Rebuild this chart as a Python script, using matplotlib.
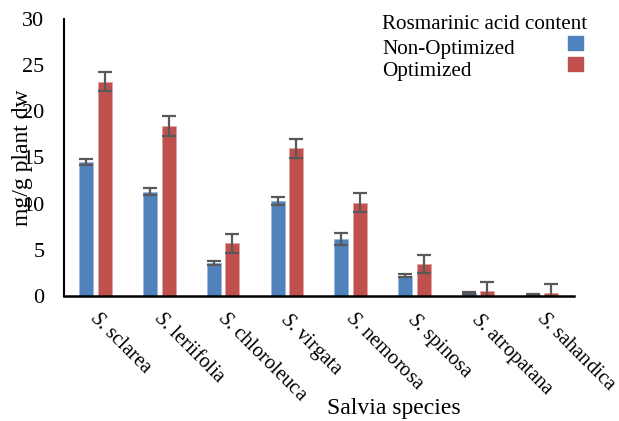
import matplotlib
matplotlib.use("Agg")
import matplotlib.pyplot as plt
import matplotlib.transforms as mtransforms
import numpy as np
from matplotlib.patches import Rectangle

plt.rcParams['font.family'] = ['Liberation Serif', 'DejaVu Serif']
plt.rcParams['mathtext.fontset'] = 'custom'
plt.rcParams['mathtext.rm'] = 'Liberation Serif'
plt.rcParams['mathtext.it'] = 'Liberation Serif:italic'

species = ["sclarea", "leriifolia", "chloroleuca", "virgata",
           "nemorosa", "spinosa", "atropatana", "sahandica"]
non_optimized = [14.5, 11.3, 3.55, 10.25, 6.2, 2.2, 0.3, 0.2]
non_optimized_err = [0.3, 0.37, 0.24, 0.45, 0.65, 0.2, 0.1, 0.05]
optimized = [23.2, 18.4, 5.7, 16.0, 10.1, 3.45, 0.5, 0.3]
optimized_err = [1.03, 1.05, 1.03, 1.05, 1.0, 1.0, 1.0, 1.0]

blue = "#4F81BD"
red = "#C0504D"
err_color = "#595959"

fig = plt.figure(figsize=(6.19, 4.21), dpi=100)
ax = fig.add_axes([0.103, 0.297, 0.824, 0.658])

x = np.arange(len(species))
w = 0.22
off = 0.145
errkw = dict(ecolor=err_color, elinewidth=1.6, capsize=4.7, capthick=1.6)
ax.bar(x - off, non_optimized, w, color=blue, yerr=non_optimized_err,
       edgecolor="#9DB8DB", linewidth=0.6, error_kw=errkw, zorder=2)
ax.bar(x + off, optimized, w, color=red, yerr=optimized_err,
       edgecolor="#E3A3A1", linewidth=0.6, error_kw=errkw, zorder=2)

ax.set_xlim(-0.5, len(species) - 0.5)
ax.set_ylim(0, 30)
ax.set_yticks(range(0, 31, 5))
ax.tick_params(axis='y', length=0, pad=14, labelsize=16)
ax.tick_params(axis='x', length=0, pad=9)
ax.set_xticks(x)
ax.set_xticklabels([r"$\it{S}$. " + s for s in species], rotation=-45,
                   ha='left', va='top', rotation_mode='anchor', fontsize=14.8)
shift = mtransforms.ScaledTranslation(3 / 72, 0, fig.dpi_scale_trans)
for lbl in ax.get_xticklabels():
    lbl.set_transform(lbl.get_transform() + shift)

for side in ("top", "right"):
    ax.spines[side].set_visible(False)
ax.spines['left'].set_linewidth(1.5)
ax.spines['bottom'].set_linewidth(1.8)

ax.set_ylabel("mg/g plant dw", fontsize=17)
ax.yaxis.set_label_coords(-0.06, 0.5)
ax.set_xlabel("Salvia species", fontsize=17)
ax.xaxis.set_label_coords(0.647, -0.37)

# legend: title and labels on the left, colour swatches on the right
fig.text(382 / 619, 1 - 29 / 421, "Rosmarinic acid content", fontsize=15.2, va='baseline')
fig.text(382 / 619, 1 - 54 / 421, "Non-Optimized", fontsize=15.2, va='baseline')
fig.text(382 / 619, 1 - 76 / 421, "Optimized", fontsize=15.2, va='baseline')
for y0, c in ((36, blue), (57, red)):
    fig.patches.append(Rectangle((568 / 619, 1 - (y0 + 14) / 421), 15 / 619, 14 / 421,
                                 transform=fig.transFigure, color=c))

fig.savefig("out.png", dpi=100)
